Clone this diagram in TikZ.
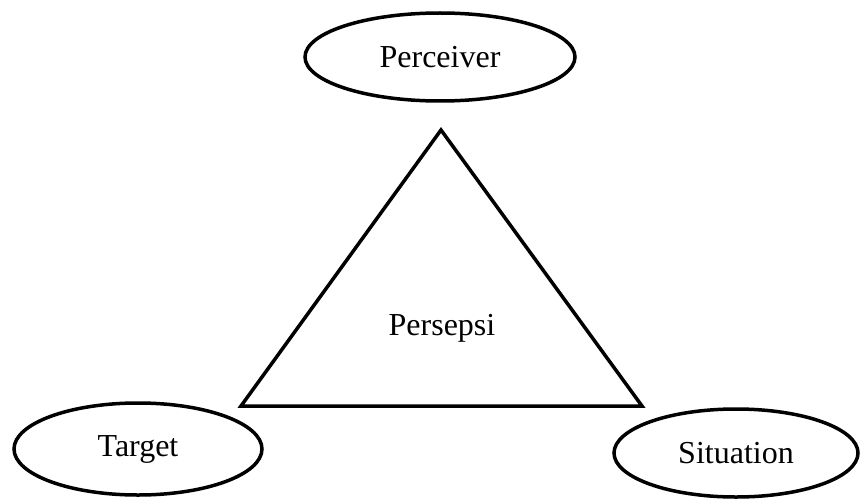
\documentclass[tikz,border=0pt]{standalone}
\usepackage{fontspec}
\setmainfont{Liberation Serif}
\usetikzlibrary{shapes.geometric}
\begin{document}
\begin{tikzpicture}[x=1pt,y=-1pt,
  oval/.style={draw, ellipse, line width=3.5pt, inner sep=0pt, font=\fontsize{32}{36}\selectfont},
  lbl/.style={inner sep=0pt, font=\fontsize{32}{36}\selectfont}]
\useasboundingbox (0,0) rectangle (861,500);
\node[oval, minimum width=270pt, minimum height=88pt] (perceiver) at (440,57) {Perceiver};
\node[oval, minimum width=248pt, minimum height=92pt] (target) at (138,449) {Target};
\node[oval, minimum width=244pt, minimum height=88pt] (situation) at (736,453) {Situation};
\coordinate (apex) at (441,130);
\coordinate (bl) at (241,406);
\coordinate (br) at (642,406);
\draw[line width=3.5pt, line join=miter] (apex) -- (bl) -- (br) -- cycle;
\node[lbl, anchor=base] (persepsi) at (442,335) {Persepsi};
\end{tikzpicture}
\end{document}
